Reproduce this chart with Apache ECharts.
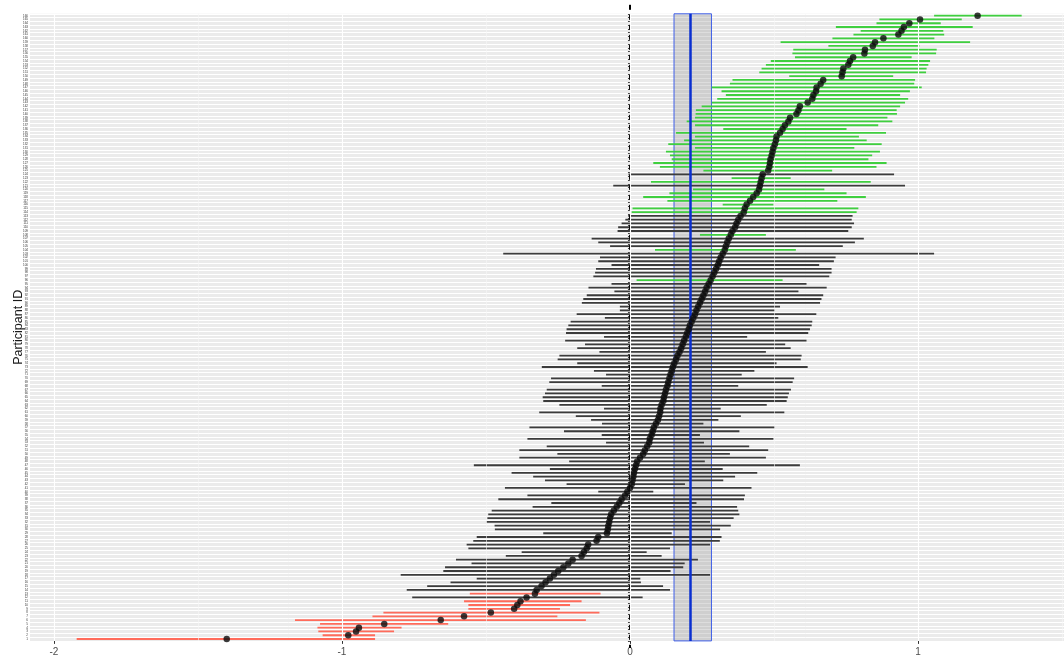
<!DOCTYPE html>
<html>
<head>
<meta charset="utf-8">
<script src="https://cdn.jsdelivr.net/npm/echarts@6/dist/echarts.min.js"></script>
<style>
  html, body { margin: 0; padding: 0; background: #fff; }
  #chart { width: 1064px; height: 657px; }
</style>
</head>
<body>
<div id="chart"></div>
<script>
// participant estimates, top row first (sorted high -> low)
const estimate = [
  1.207, 1.007, 0.970, 0.951, 0.943, 0.932, 0.880, 0.851, 0.843, 0.816,
  0.814, 0.775, 0.764, 0.758, 0.741, 0.738, 0.735, 0.671, 0.662, 0.648,
  0.646, 0.637, 0.633, 0.617, 0.590, 0.585, 0.578, 0.556, 0.550, 0.538,
  0.530, 0.521, 0.509, 0.507, 0.503, 0.498, 0.495, 0.492, 0.488, 0.486,
  0.484, 0.480, 0.461, 0.457, 0.454, 0.451, 0.448, 0.440, 0.428, 0.417,
  0.405, 0.399, 0.395, 0.384, 0.376, 0.370, 0.365, 0.356, 0.350, 0.343,
  0.338, 0.333, 0.329, 0.322, 0.315, 0.310, 0.305, 0.299, 0.293, 0.287,
  0.280, 0.273, 0.266, 0.261, 0.255, 0.249, 0.243, 0.237, 0.231, 0.226,
  0.220, 0.214, 0.208, 0.204, 0.199, 0.194, 0.188, 0.183, 0.178, 0.172,
  0.165, 0.160, 0.154, 0.149, 0.145, 0.141, 0.137, 0.133, 0.130, 0.125,
  0.122, 0.118, 0.116, 0.110, 0.106, 0.105, 0.101, 0.097, 0.090, 0.083,
  0.079, 0.075, 0.069, 0.067, 0.060, 0.052, 0.046, 0.035, 0.025, 0.021,
  0.017, 0.014, 0.012, 0.009, 0.006, 0.000, -0.009, -0.017, -0.029, -0.037,
  -0.046, -0.056, -0.065, -0.069, -0.072, -0.075, -0.077, -0.080, -0.110, -0.116,
  -0.145, -0.150, -0.160, -0.168, -0.199, -0.214, -0.231, -0.249, -0.264, -0.278,
  -0.293, -0.307, -0.324, -0.330, -0.359, -0.380, -0.391, -0.402, -0.483, -0.576,
  -0.657, -0.853, -0.941, -0.951, -0.978, -1.400
];
const lower = [
  1.056, 0.866, 0.856, 0.715, 0.801, 0.776, 0.703, 0.523, 0.689, 0.567,
  0.564, 0.573, 0.489, 0.472, 0.457, 0.449, 0.553, 0.356, 0.347, 0.284,
  0.318, 0.333, 0.303, 0.284, 0.249, 0.229, 0.228, 0.226, 0.197, 0.226,
  0.324, 0.160, 0.226, 0.188, 0.133, 0.226, 0.125, 0.139, 0.145, 0.081,
  0.104, 0.255, -0.005, 0.353, 0.073, -0.058, 0.219, 0.137, 0.046, 0.130,
  0.322, 0.009, 0.006, -0.006, -0.016, -0.029, -0.041, -0.043, 0.243, -0.133,
  -0.110, -0.069, 0.087, -0.440, -0.104, -0.110, -0.064, -0.118, -0.121, -0.127,
  0.023, -0.064, -0.144, -0.054, -0.150, -0.162, -0.167, -0.035, -0.035, -0.185,
  -0.087, -0.206, -0.214, -0.220, -0.222, -0.090, -0.225, -0.156, -0.183, -0.106,
  -0.245, -0.251, -0.183, -0.306, -0.125, -0.083, -0.274, -0.280, -0.098, -0.289,
  -0.295, -0.303, -0.301, -0.245, -0.090, -0.315, -0.188, -0.135, -0.097, -0.349,
  -0.229, -0.098, -0.356, -0.083, -0.289, -0.384, -0.252, -0.384, -0.211, -0.542,
  -0.278, -0.411, -0.336, -0.295, -0.220, -0.434, -0.110, -0.356, -0.457, -0.273,
  -0.338, -0.480, -0.492, -0.495, -0.498, -0.470, -0.469, -0.301, -0.532, -0.544,
  -0.567, -0.561, -0.376, -0.431, -0.604, -0.550, -0.642, -0.648, -0.796, -0.532,
  -0.623, -0.704, -0.775, -0.556, -0.756, -0.576, -0.561, -0.561, -0.856, -0.894,
  -1.163, -1.076, -1.085, -1.082, -1.067, -1.921
];
const upper = [
  1.360, 1.152, 1.079, 1.190, 1.088, 1.091, 1.057, 1.181, 1.005, 1.065,
  1.063, 0.978, 1.042, 1.036, 1.030, 1.028, 0.914, 0.990, 0.987, 1.013,
  0.972, 0.938, 0.966, 0.955, 0.938, 0.926, 0.927, 0.894, 0.911, 0.862,
  0.752, 0.889, 0.795, 0.822, 0.874, 0.779, 0.868, 0.841, 0.828, 0.891,
  0.856, 0.702, 0.917, 0.558, 0.836, 0.955, 0.675, 0.752, 0.819, 0.720,
  0.498, 0.793, 0.787, 0.773, 0.770, 0.778, 0.770, 0.758, 0.472, 0.812,
  0.781, 0.739, 0.576, 1.056, 0.714, 0.708, 0.657, 0.700, 0.700, 0.692,
  0.530, 0.613, 0.683, 0.585, 0.671, 0.665, 0.660, 0.521, 0.503, 0.647,
  0.515, 0.633, 0.631, 0.625, 0.619, 0.407, 0.613, 0.539, 0.558, 0.472,
  0.596, 0.593, 0.509, 0.617, 0.432, 0.388, 0.570, 0.565, 0.376, 0.559,
  0.552, 0.548, 0.544, 0.475, 0.315, 0.536, 0.385, 0.307, 0.255, 0.503,
  0.380, 0.243, 0.498, 0.257, 0.414, 0.480, 0.347, 0.472, 0.260, 0.590,
  0.322, 0.442, 0.365, 0.324, 0.191, 0.422, 0.081, 0.399, 0.396, 0.231,
  0.372, 0.376, 0.380, 0.360, 0.278, 0.350, 0.313, 0.145, 0.318, 0.312,
  0.278, 0.139, 0.058, 0.110, 0.236, 0.190, 0.185, 0.141, 0.278, 0.036,
  0.038, 0.115, 0.139, -0.102, 0.044, -0.168, -0.208, -0.243, -0.106, -0.252,
  -0.153, -0.631, -0.793, -0.819, -0.885, -0.885
];
const participantIds = estimate.map((_, i) => String(estimate.length - i));

// group mean and its interval (blue band)
const meanEffect = 0.215;
const meanBand = [0.153, 0.283];
const xTicks = [-2, -1, 0, 1];
const xMinorGrid = [-1.5, -0.5, 0.5, 1.5];

const COLORS = {
  up: '#3fcf3f',
  down: '#ff6b5b',
  mid: '#3c3c3c',
  point: '#0a0a0a',
  band: 'rgba(150,150,150,0.32)',
  bandBorder: '#3f5fe8',
  meanLine: '#0a2fd0'
};

const chart = echarts.init(document.getElementById('chart'));

chart.setOption({
  animation: false,
  backgroundColor: '#ffffff',
  grid: {
    left: 30, right: 0, top: 13.8, bottom: 16.1,
    outerBoundsMode: 'none',
    containLabel: false,
    show: true, backgroundColor: '#ebebeb', borderWidth: 0
  },
  xAxis: {
    type: 'value',
    min: -2.083,
    max: 1.507,
    axisLine: { show: false },
    splitLine: { show: false },
    axisTick: { show: true, customValues: xTicks, length: 3, lineStyle: { color: '#333' } },
    axisLabel: {
      customValues: xTicks, margin: 6,
      color: '#4d4d4d', fontSize: 10, fontFamily: 'Liberation Sans'
    }
  },
  yAxis: {
    type: 'category',
    data: participantIds,
    inverse: true,
    name: 'Participant ID',
    nameLocation: 'middle',
    nameGap: 5,
    nameMoveOverlap: false,
    nameTextStyle: { color: '#1a1a1a', fontSize: 12.5, fontFamily: 'Liberation Sans' },
    axisLine: { show: false },
    axisTick: { show: true, interval: 0, length: 2, lineStyle: { color: '#444' } },
    axisLabel: { interval: 0, fontSize: 3, margin: 2, color: '#333' },
    splitLine: { show: true, interval: 0, lineStyle: { color: '#ffffff', width: 1 } }
  },
  series: [
    {
      // vertical white grid lines
      type: 'scatter',
      data: [],
      z: 1,
      silent: true,
      markLine: {
        silent: true, symbol: 'none', label: { show: false },
        data: xTicks.map(v => ({ xAxis: v, lineStyle: { color: '#ffffff', width: 1.1, type: 'solid' } }))
          .concat(xMinorGrid.map(v => ({ xAxis: v, lineStyle: { color: '#f7f7f7', width: 0.6, type: 'solid' } })))
      }
    },
    {
      // confidence interval bars
      type: 'custom',
      z: 2,
      silent: true,
      data: estimate.map((v, i) => [lower[i], upper[i], i]),
      encode: { x: [0, 1], y: 2 },
      renderItem: (params, api) => {
        const lo = api.value(0), hi = api.value(1), idx = api.value(2);
        const p0 = api.coord([lo, idx]);
        const p1 = api.coord([hi, idx]);
        const color = lo > 0 ? COLORS.up : (hi < 0 ? COLORS.down : COLORS.mid);
        return {
          type: 'line',
          shape: { x1: p0[0], y1: p0[1], x2: p1[0], y2: p1[1] },
          style: { stroke: color, lineWidth: 1.8 }
        };
      }
    },
    {
      // mean interval band
      type: 'scatter',
      data: [],
      z: 3,
      silent: true,
      markArea: {
        silent: true,
        itemStyle: { color: COLORS.band, borderColor: COLORS.bandBorder, borderWidth: 1 },
        data: [[{ xAxis: meanBand[0] }, { xAxis: meanBand[1] }]]
      }
    },
    {
      // zero reference line (drawn a little past the panel)
      type: 'custom',
      z: 4,
      silent: true,
      clip: false,
      data: [[0, 0]],
      encode: { x: 0, y: 1 },
      renderItem: (params, api) => {
        const x = Math.round(api.coord([api.value(0), 0])[0]);
        const cs = params.coordSys;
        return {
          type: 'line',
          shape: { x1: x, y1: cs.y - 9, x2: x, y2: cs.y + cs.height + 7 },
          style: { stroke: '#000', lineWidth: 2, lineDash: [5, 5] }
        };
      }
    },
    {
      // participant point estimates
      type: 'scatter',
      z: 5,
      silent: true,
      symbol: 'circle',
      symbolSize: 6.5,
      itemStyle: { color: COLORS.point },
      data: estimate.map((v, i) => [v, i])
    },
    {
      // group mean line
      type: 'scatter',
      data: [],
      z: 6,
      silent: true,
      markLine: {
        silent: true, symbol: 'none', label: { show: false },
        lineStyle: { color: COLORS.meanLine, width: 2.5, type: 'solid' },
        data: [{ xAxis: meanEffect }]
      }
    }
  ]
});
</script>
</body>
</html>
